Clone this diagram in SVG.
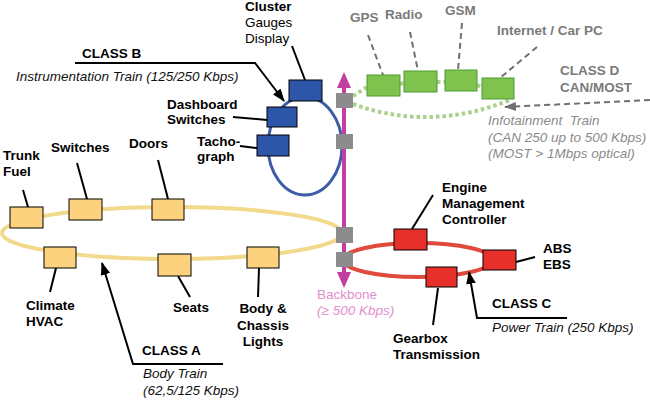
<svg xmlns="http://www.w3.org/2000/svg" width="650" height="400" viewBox="0 0 650 400">
<defs>
<style>
text{font-family:"Liberation Sans",Arial,sans-serif;font-size:13.5px}
.b{font-weight:bold;fill:#000}
.i{font-style:italic;fill:#111}
.gb{font-weight:bold;fill:#7a7a7a}
.gi{font-style:italic;fill:#8a8a8a}
.pk{fill:#e08fcf}
.lead{stroke:#000;stroke-width:2;fill:none}
.dlead{stroke:#707070;stroke-width:2;stroke-dasharray:6 4;fill:none}
.yb{fill:#fcd27e;stroke:#000;stroke-width:1}
.bb{fill:#2d55a8;stroke:#000;stroke-width:1}
.rb{fill:#e8302a;stroke:#000;stroke-width:1}
.gr{fill:#80c24e;stroke:#4f9a32;stroke-width:1}
.gw{fill:#8c8c8c}
.dot{stroke:#a9d08c;stroke-width:4;stroke-dasharray:3.5 3;fill:none}
</style>
<marker id="ah" viewBox="0 0 12 9" refX="11" refY="4.5" markerWidth="6.5" markerHeight="4.9" orient="auto" markerUnits="strokeWidth">
<path d="M0,0 L12,4.5 L0,9 z" fill="#000"/>
</marker>
<marker id="ahg" viewBox="0 0 12 9" refX="11" refY="4.5" markerWidth="6" markerHeight="4.5" orient="auto" markerUnits="strokeWidth">
<path d="M0,0 L12,4.5 L0,9 z" fill="#707070"/>
</marker>
</defs>
<rect width="650" height="400" fill="#fff"/>

<g id="buses">
<ellipse id="bus-a" cx="172" cy="233" rx="170" ry="26" fill="none" stroke="#f3d98c" stroke-width="4"/>
<ellipse id="bus-b" cx="305" cy="146" rx="37" ry="49" fill="none" stroke="#3d5ca6" stroke-width="3"/>
<ellipse id="bus-c" cx="418" cy="260" rx="75" ry="17" fill="none" stroke="#e04a3c" stroke-width="4"/>
<path id="bus-d-upper" class="dot" d="M353,96 L367,87 M400,84 L404,83 M437,82 L445,82 M477,85 L482,87"/>
<path id="bus-d-lower" class="dot" d="M353,104 Q430,132 510,100"/>
</g>

<g id="connectors">
<line class="lead" x1="23" y1="190" x2="28" y2="207"/>
<line class="lead" x1="77" y1="163" x2="87" y2="199"/>
<line class="lead" x1="158" y1="160" x2="168" y2="199"/>
<line class="lead" x1="56" y1="268" x2="50" y2="292"/>
<line class="lead" x1="178" y1="276" x2="190" y2="297"/>
<line class="lead" x1="259" y1="268" x2="258" y2="297"/>
<polyline class="lead" points="223,364 133,364 102,263" marker-end="url(#ah)"/>
<line class="lead" x1="292" y1="46" x2="305" y2="80"/>
<polyline class="lead" points="75,63 255,63 284,101" marker-end="url(#ah)"/>
<line class="lead" x1="233" y1="117" x2="267" y2="120"/>
<line class="lead" x1="240" y1="146" x2="257" y2="148"/>
<line class="dlead" x1="368" y1="35" x2="383" y2="75"/>
<line class="dlead" x1="410" y1="32" x2="418" y2="71"/>
<line class="dlead" x1="462" y1="23" x2="458" y2="70"/>
<line class="dlead" x1="537" y1="47" x2="500" y2="78"/>
<line class="dlead" x1="650" y1="100" x2="505" y2="107" marker-end="url(#ahg)"/>
<line class="lead" x1="433" y1="195" x2="412" y2="229"/>
<line class="lead" x1="516" y1="262" x2="535" y2="257"/>
<line class="lead" x1="438" y1="288" x2="433" y2="325"/>
<polyline class="lead" points="567,318 477,318 469,272" marker-end="url(#ah)"/>
</g>

<g id="backbone">
<line x1="344" y1="84" x2="344" y2="276" stroke="#c23ea2" stroke-width="4"/>
<path d="M344,72 L351,88 L337,88 z" fill="#c23ea2"/>
<path d="M344,288 L351,272 L337,272 z" fill="#c23ea2"/>
<rect class="gw" x="336" y="93" width="17" height="15"/>
<rect class="gw" x="336" y="134" width="17" height="15"/>
<rect class="gw" x="336" y="227" width="17" height="16"/>
<rect class="gw" x="336" y="252" width="17" height="15"/>
<text class="pk" x="317" y="299">Backbone</text>
<text class="pk" x="317" y="315" font-style="italic">(≥ 500 Kbps)</text>
</g>

<g id="trunk-fuel"><rect class="yb" x="10" y="207" width="33" height="21"/><text class="b" x="3" y="160">Trunk</text><text class="b" x="3" y="176">Fuel</text></g>
<g id="switches"><rect class="yb" x="69" y="199" width="33" height="21"/><text class="b" x="51" y="152">Switches</text></g>
<g id="doors"><rect class="yb" x="152" y="199" width="32" height="21"/><text class="b" x="129" y="148">Doors</text></g>
<g id="climate"><rect class="yb" x="44" y="247" width="32" height="21"/><text class="b" x="26" y="310">Climate</text><text class="b" x="26" y="326">HVAC</text></g>
<g id="seats"><rect class="yb" x="158" y="254" width="33" height="22"/><text class="b" x="173" y="312">Seats</text></g>
<g id="body"><rect class="yb" x="247" y="247" width="32" height="21"/><text class="b" x="263" y="313" text-anchor="middle">Body &amp;</text><text class="b" x="263" y="330" text-anchor="middle">Chassis</text><text class="b" x="263" y="346" text-anchor="middle">Lights</text></g>
<g id="class-a"><text class="b" x="142" y="355">CLASS A</text><text class="i" x="143" y="378">Body Train</text><text class="i" x="143" y="395">(62,5/125 Kbps)</text></g>

<g id="cluster"><rect class="bb" x="289" y="80" width="33" height="21"/><text class="b" x="245" y="11">Cluster</text><text x="245" y="27" fill="#000">Gauges</text><text x="245" y="43" fill="#000">Display</text></g>
<g id="dashboard"><rect class="bb" x="267" y="107" width="30" height="20"/><text class="b" x="167" y="109">Dashboard</text><text class="b" x="167" y="124">Switches</text></g>
<g id="tacho"><rect class="bb" x="257" y="135" width="32" height="21"/><text class="b" x="197" y="146">Tacho-</text><text class="b" x="197" y="161">graph</text></g>
<g id="class-b"><text class="b" x="82" y="58">CLASS B</text><text class="i" x="16" y="81">Instrumentation Train (125/250 Kbps)</text></g>

<g id="gps"><rect class="gr" x="367" y="75" width="33" height="21"/><text class="gb" x="350" y="22">GPS</text></g>
<g id="radio"><rect class="gr" x="404" y="71" width="33" height="21"/><text class="gb" x="385" y="19">Radio</text></g>
<g id="gsm"><rect class="gr" x="445" y="70" width="32" height="21"/><text class="gb" x="445" y="15">GSM</text></g>
<g id="internet"><rect class="gr" x="482" y="78" width="32" height="21"/><text class="gb" x="497" y="35">Internet / Car PC</text></g>
<g id="class-d"><text class="gb" x="560" y="75">CLASS D</text><text class="gb" x="560" y="92">CAN/MOST</text><text class="gi" x="488" y="125" xml:space="preserve">Infotainment  Train</text><text class="gi" x="488" y="142">(CAN 250 up to 500 Kbps)</text><text class="gi" x="488" y="158">(MOST &gt; 1Mbps optical)</text></g>

<g id="engine"><rect class="rb" x="394" y="229" width="33" height="21"/><text class="b" x="442" y="192">Engine</text><text class="b" x="442" y="208">Management</text><text class="b" x="442" y="224">Controller</text></g>
<g id="abs"><rect class="rb" x="483" y="250" width="33" height="20"/><text class="b" x="543" y="253">ABS</text><text class="b" x="543" y="269">EBS</text></g>
<g id="gearbox"><rect class="rb" x="426" y="267" width="31" height="20"/><text class="b" x="393" y="343">Gearbox</text><text class="b" x="393" y="359">Transmission</text></g>
<g id="class-c"><text class="b" x="492" y="308">CLASS C</text><text class="i" x="492" y="332">Power Train (250 Kbps)</text></g>
</svg>
